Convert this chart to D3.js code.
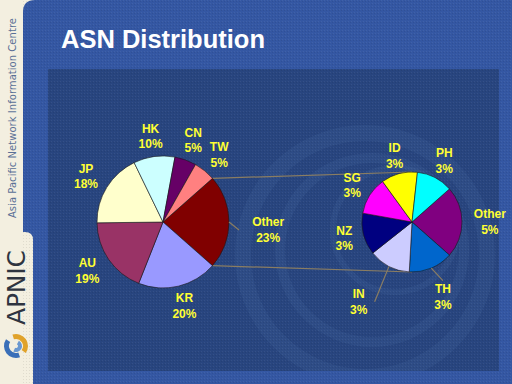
<!DOCTYPE html>
<html>
<head>
<meta charset="utf-8">
<script src="https://cdn.jsdelivr.net/npm/d3@7"></script>
<style>
  html, body { margin: 0; padding: 0; background: #f3efe0; }
  svg { display: block; }
  .lbl { font-family: "Liberation Sans", Arial, sans-serif; font-weight: bold; font-size: 12px; fill: #ffff33; }
</style>
</head>
<body>
<svg width="512" height="384"></svg>
<script>
// Data: main pie (clockwise from the split-off "Other" slice)
const mainNames = ["Other", "KR", "AU", "JP", "HK", "CN", "TW"];
const mainValues = [23.0, 19.5, 18.8, 18.0, 10.1, 5.3, 5.3];
const mainColors = ["#800000", "#9999ff", "#993366", "#ffffcc", "#ccffff", "#660066", "#ff8080"];

// Data: secondary pie (breakdown of main "Other")
const subNames = ["Other", "TH", "IN", "NZ", "SG", "ID", "PH"];
const subValues = [5.3, 3.3, 3.1, 3.1, 2.8, 2.7, 2.7];
const subColors = ["#800080", "#0066cc", "#ccccff", "#000080", "#ff00ff", "#ffff00", "#00ffff"];

const title = "ASN Distribution";

let svg = d3.select('svg');
const W = 512, H = 384;
const lineColor = "#8a7d62";

// Slide background
svg.append('rect').attr('width', W).attr('height', H).attr('fill', '#f3efe0');
svg.append('path')
  .attr('d', `M${W},0 L35,0 Q23,0 23,12 L23,${H} L${W},${H} Z`)
  .attr('fill', '#3457a3');
svg.append('path')
  .attr('d', `M0,232 L25,232 Q33,232 33,240 L33,${H} L0,${H} Z`)
  .attr('fill', '#f3efe0');

// dither texture
let defs = svg.append('defs');
let pat = defs.append('pattern').attr('id', 'dots')
  .attr('width', 3).attr('height', 3).attr('patternUnits', 'userSpaceOnUse');
pat.append('rect').attr('width', 1).attr('height', 1).attr('fill', '#ffffff').attr('opacity', 0.06);
pat.append('rect').attr('x', 2).attr('y', 1).attr('width', 1).attr('height', 1).attr('fill', '#000').attr('opacity', 0.08);
svg.append('rect').attr('x', 23).attr('y', 0).attr('width', W - 23).attr('height', H)
  .attr('fill', 'url(#dots)');

// Plot area
let plot = { x: 48, y: 69, w: 451, h: 302 };
defs.append('clipPath').attr('id', 'plotClip')
  .append('rect').attr('x', plot.x).attr('y', plot.y).attr('width', plot.w).attr('height', plot.h);
svg.append('rect')
  .attr('x', plot.x).attr('y', plot.y).attr('width', plot.w).attr('height', plot.h)
  .attr('fill', '#28457f');

// faint swirl in the plot background
let swirl = svg.append('g').attr('clip-path', 'url(#plotClip)');
[[365, 255, 122, 16], [372, 250, 92, 10], [395, 230, 62, 6]].forEach(c => {
  swirl.append('circle')
    .attr('cx', c[0]).attr('cy', c[1]).attr('r', c[2])
    .attr('fill', 'none').attr('stroke', '#6f8fc8')
    .attr('stroke-width', c[3]).attr('opacity', 0.1);
});
svg.append('rect')
  .attr('x', plot.x).attr('y', plot.y).attr('width', plot.w).attr('height', plot.h)
  .attr('fill', 'url(#dots)');

// Title
svg.append('text')
  .text(title)
  .attr('x', 61).attr('y', 48)
  .style('font-family', '"Liberation Sans", Arial, sans-serif')
  .style('font-weight', 'bold')
  .style('font-size', '25.5px')
  .attr('fill', '#ffffff');

// Sidebar text + logo
svg.append('text')
  .text('Asia Pacific Network Information Centre')
  .attr('transform', 'translate(15.5,218) rotate(-90)')
  .attr('textLength', 200)
  .style('font-family', '"DejaVu Sans", sans-serif')
  .style('font-size', '10px')
  .attr('fill', '#5a7096');
svg.append('text')
  .text('APNIC')
  .attr('transform', 'translate(25,325) rotate(-90)')
  .attr('textLength', 75)
  .style('font-family', '"DejaVu Sans", sans-serif')
  .style('font-size', '25px')
  .attr('fill', '#2e3440');
let logo = svg.append('g').attr('transform', 'translate(16,346)');
logo.append('path').attr('d', d3.arc()({ innerRadius: 7, outerRadius: 12, startAngle: -0.3, endAngle: 2.2 }))
  .attr('fill', '#e0a22a');
logo.append('path').attr('d', d3.arc()({ innerRadius: 7, outerRadius: 12, startAngle: 2.8, endAngle: 5.3 }))
  .attr('fill', '#3a6fb8');
logo.append('path').attr('d', d3.arc()({ innerRadius: 2, outerRadius: 6, startAngle: 0.5, endAngle: 3.6 }))
  .attr('fill', '#6a98d0');

// Pie geometry
let main = { cx: 163, cy: 222, r: 66, pad: 5 };
let sub = { cx: 412, cy: 222, r: 50, pad: 3 };

function makePie(values) {
  let total = d3.sum(values);
  let half = values[0] / total * Math.PI;
  return d3.pie().sort(null)
    .startAngle(Math.PI / 2 - half)
    .endAngle(Math.PI / 2 - half + 2 * Math.PI)(values);
}

let mainArcs = makePie(mainValues);
let subArcs = makePie(subValues);

function pt(g, a, r) {
  return [g.cx + r * Math.sin(a), g.cy - r * Math.cos(a)];
}

// Series lines between the pies
let other = mainArcs[0];
let seriesLines = [
  [pt(main, other.startAngle, main.r), [sub.cx, sub.cy - sub.r]],
  [pt(main, other.endAngle, main.r), [sub.cx, sub.cy + sub.r]]
];
svg.selectAll('line.series')
  .data(seriesLines)
  .enter()
  .append('line')
  .attr('class', 'series')
  .attr('x1', d => d[0][0]).attr('y1', d => d[0][1])
  .attr('x2', d => d[1][0]).attr('y2', d => d[1][1])
  .attr('stroke', lineColor).attr('stroke-width', 1.2);

// Draw slices
function drawPie(g, arcs, colors) {
  let arc = d3.arc().innerRadius(0).outerRadius(g.r);
  svg.append('g')
    .attr('transform', `translate(${g.cx},${g.cy})`)
    .selectAll('path')
    .data(arcs)
    .enter()
    .append('path')
    .attr('d', arc)
    .attr('fill', (d, i) => colors[i])
    .attr('stroke', '#1a1a1a')
    .attr('stroke-width', 0.6);
}
drawPie(main, mainArcs, mainColors);
drawPie(sub, subArcs, subColors);

// Labels (labels moved out get a leader line)
let nudge = {
  main: { Other: [6, 8] },
  sub: { TH: [4, 12], IN: [-22, 19] }
};

function drawLabels(g, arcs, names, key) {
  arcs.forEach((d, i) => {
    let a = (d.startAngle + d.endAngle) / 2;
    let lines = [names[i], Math.round(d.value) + '%'];
    let t = svg.append('text').attr('class', 'lbl').attr('text-anchor', 'middle');
    lines.forEach((s, j) => t.append('tspan').text(s));
    let bb = t.node().getBBox();
    let hw = bb.width / 2, hh = 15.5;
    let p = pt(g, a, g.r + g.pad);
    let x = p[0] + hw * Math.sin(a);
    let y = p[1] - hh * Math.cos(a);
    let n = nudge[key][names[i]];
    if (n) { x += n[0]; y += n[1]; }
    t.selectAll('tspan')
      .attr('x', x)
      .attr('y', (s, j) => y - 7.75 + j * 15.5)
      .attr('dominant-baseline', 'central');

    if (n) {
      let e = pt(g, a, g.r);
      let left = x - hw - 1, right = x + hw + 1;
      let end;
      if (e[0] < left) end = [left, y];
      else if (e[0] > right) end = [right, y];
      else end = [x, e[1] < y ? y - hh - 1 : y + hh + 1];
      svg.insert('line', 'text.lbl')
        .attr('x1', e[0]).attr('y1', e[1])
        .attr('x2', end[0]).attr('y2', end[1])
        .attr('stroke', lineColor).attr('stroke-width', 1.2);
    }
  });
}
drawLabels(main, mainArcs, mainNames, 'main');
drawLabels(sub, subArcs, subNames, 'sub');
</script>
</body>
</html>
